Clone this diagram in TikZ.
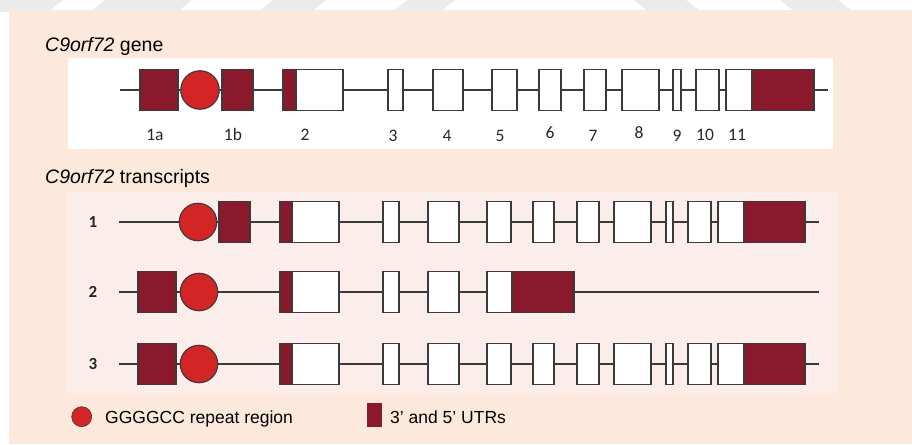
\documentclass[tikz,border=0pt]{standalone}
\usepackage{fontspec}
\setmainfont{Liberation Sans}
\newfontfamily\labfont{Carlito}
\definecolor{utr}{HTML}{8A1A2B}
\definecolor{rep}{HTML}{D42526}
\definecolor{peach}{HTML}{FDE9DC}
\definecolor{pinkbox}{HTML}{FBEEEA}
\definecolor{edge}{HTML}{3A3A3A}
\definecolor{wm}{HTML}{EBEBEB}
\newcommand\exn[5]{\node[#1, minimum width={(#4)-(#3)}, minimum height=41.5pt] (#2) at ({(#3+#4)/2},#5) {};}
\begin{document}
\begin{tikzpicture}[x=1pt,y=-1pt,
 exon/.style={draw=edge, line width=1.3pt, fill=white, inner sep=0pt, outer sep=0pt},
 utrbox/.style={exon, fill=utr},
 repeatc/.style={circle, draw=edge, line width=1.1pt, fill=rep, inner sep=0pt, minimum size=37.5pt},
 backbone/.style={draw=edge, line width=1.2pt},
 exlab/.style={font=\labfont\fontsize{17.5}{17.5}\selectfont, inner sep=0pt, text=black!85},
 trlab/.style={font=\labfont\bfseries\fontsize{17}{17}\selectfont, inner sep=0pt, text=black!85},
 title/.style={anchor=base west, inner sep=0pt, font=\fontsize{19.5}{22}\selectfont},
 legtext/.style={anchor=base west, inner sep=0pt, font=\fontsize{17.5}{20}\selectfont}]
\useasboundingbox (0,0) rectangle (912,444);
% background
\fill[white] (0,0) rectangle (912,444);
\fill[wm] (-15,0) -- (63,0) -- (48,12) -- (-30,12) -- cycle;
\fill[wm] (105,0) -- (192,0) -- (177,12) -- (90,12) -- cycle;
\fill[wm] (273,0) -- (326,0) -- (311,12) -- (258,12) -- cycle;
\fill[wm] (407,0) -- (455,0) -- (440,12) -- (392,12) -- cycle;
\fill[wm] (634,0) -- (686,0) -- (701,12) -- (649,12) -- cycle;
\fill[wm] (780,0) -- (838,0) -- (853,12) -- (795,12) -- cycle;
\fill[peach] (9,10) rectangle (912,444);
\fill[white] (68,58) rectangle (833,149);
\fill[pinkbox] (67,192) rectangle (837,393);
% titles
\node[title] (t1) at (45,52) {\textit{C9orf72} gene};
\node[title] (t2) at (45,183) {\textit{C9orf72} transcripts};
% gene row
\coordinate (gs) at (120,90);
\coordinate (ge) at (828,90);
\draw[backbone] (gs) -- (ge);
\exn{utrbox}{g1a}{140}{178}{90}
\node[repeatc, minimum size=38.5pt] (gR) at (200,90) {};
\exn{utrbox}{g1b}{222}{253}{90}
\exn{utrbox}{g2u}{283}{296}{90}
\exn{exon}{g2}{296}{343}{90}
\exn{exon}{g3}{388}{403}{90}
\exn{exon}{g4}{433}{463}{90}
\exn{exon}{g5}{492}{517}{90}
\exn{exon}{g6}{539}{561}{90}
\exn{exon}{g7}{584}{606}{90}
\exn{exon}{g8}{622}{659}{90}
\exn{exon}{g9}{673}{681}{90}
\exn{exon}{g10}{696}{719}{90}
\exn{exon}{g11}{726}{752}{90}
\exn{utrbox}{g11u}{752}{814}{90}
% gene labels
\node[exlab] (l1a) at (155,135) {1a};
\node[exlab] (l1b) at (233,134.5) {1b};
\node[exlab] (l2) at (305,135) {2};
\node[exlab] (l3) at (393,136) {3};
\node[exlab] (l4) at (447,136) {4};
\node[exlab] (l5) at (500,136) {5};
\node[exlab] (l6) at (550,133) {6};
\node[exlab] (l7) at (593,136) {7};
\node[exlab] (l8) at (639,133) {8};
\node[exlab] (l9) at (677,136) {9};
\node[exlab] (l10) at (705,135) {10};
\node[exlab] (l11) at (737,135) {11};
% transcript 1
\node[trlab] (n1) at (93,222) {1};
\coordinate (as) at (119,222);
\coordinate (ae) at (819,222);
\draw[backbone] (as) -- (ae);
\node[repeatc] (aR) at (198,222) {};
\exn{utrbox}{a1}{219}{250}{222}
\exn{utrbox}{a2u}{280}{292}{222}
\exn{exon}{a2}{292}{339}{222}
\exn{exon}{a3}{383}{399}{222}
\exn{exon}{a4}{428}{459}{222}
\exn{exon}{a5}{487}{511}{222}
\exn{exon}{a6}{533}{554}{222}
\exn{exon}{a7}{577}{599}{222}
\exn{exon}{a8}{614}{651}{222}
\exn{exon}{a9}{666}{673}{222}
\exn{exon}{a10}{688}{711}{222}
\exn{exon}{a11}{718}{744}{222}
\exn{utrbox}{a11u}{744}{805}{222}
% transcript 2
\node[trlab] (n2) at (93,292) {2};
\coordinate (bs) at (119,292);
\coordinate (be) at (819,292);
\draw[backbone] (bs) -- (be);
\exn{utrbox}{b1}{138}{176}{292}
\node[repeatc] (bR) at (199,292) {};
\exn{utrbox}{b2u}{280}{292}{292}
\exn{exon}{b2}{292}{339}{292}
\exn{exon}{b3}{383}{399}{292}
\exn{exon}{b4}{428}{459}{292}
\exn{exon}{b5}{487}{512}{292}
\exn{utrbox}{b5u}{512}{574}{292}
% transcript 3
\node[trlab] (n3) at (93,364) {3};
\coordinate (cs) at (119,364);
\coordinate (ce) at (819,364);
\draw[backbone] (cs) -- (ce);
\exn{utrbox}{c1}{138}{176}{364}
\node[repeatc] (cR) at (199,364) {};
\exn{utrbox}{c2u}{280}{292}{364}
\exn{exon}{c2}{292}{339}{364}
\exn{exon}{c3}{383}{399}{364}
\exn{exon}{c4}{428}{459}{364}
\exn{exon}{c5}{487}{511}{364}
\exn{exon}{c6}{533}{554}{364}
\exn{exon}{c7}{577}{599}{364}
\exn{exon}{c8}{614}{651}{364}
\exn{exon}{c9}{666}{673}{364}
\exn{exon}{c10}{688}{711}{364}
\exn{exon}{c11}{718}{744}{364}
\exn{utrbox}{c11u}{744}{805}{364}
% legend
\node[circle, fill=rep, draw=edge, line width=0.6pt, inner sep=0pt, minimum size=20pt] (kR) at (81.7,416.7) {};
\node[legtext] (kRt) at (105,423) {GGGGCC repeat region};
\node[fill=utr, inner sep=0pt, minimum width=15pt, minimum height=24pt] (kU) at (374.5,415) {};
\node[legtext] (kUt) at (390,423) {3' and 5' UTRs};
\end{tikzpicture}
\end{document}
